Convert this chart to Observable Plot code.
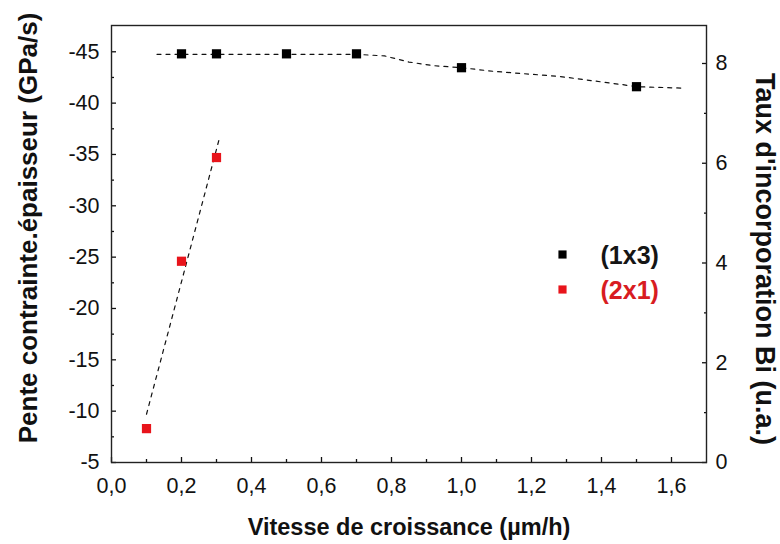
<!DOCTYPE html>
<html>
<head>
<meta charset="utf-8">
<script src="https://cdn.jsdelivr.net/npm/d3@7"></script>
<script src="https://cdn.jsdelivr.net/npm/@observablehq/plot@0.6"></script>
<style>
  body { margin: 0; background: #fff; }
  #chart svg { font-family: Arial, "Liberation Sans", sans-serif; }
</style>
</head>
<body>
<div id="chart"></div>
<script>
// ---- data ----
const seriesNames = ["(1x3)", "(2x1)"];
const seriesColors = ["#000000", "#e8141b"];

// (1x3) measured points
const x1x3 = [0.2, 0.3, 0.5, 0.7, 1.0, 1.5];
const y1x3 = [-44.8, -44.8, -44.8, -44.8, -43.45, -41.6];

// (2x1) measured points
const x2x1 = [0.1, 0.2, 0.3];
const y2x1 = [-8.3, -24.6, -34.7];

// dashed guide curves
const fit1x3X = [0.13, 0.7, 0.78, 0.85, 0.92, 1.0, 1.09, 1.28, 1.37, 1.46, 1.5, 1.64];
const fit1x3Y = [-44.75, -44.75, -44.6, -44.0, -43.65, -43.45, -43.1, -42.6, -42.2, -41.8, -41.6, -41.45];
const fit2x1X = [0.1, 0.31];
const fit2x1Y = [-9.7, -36.8];

// axes
const xTicks = [0, 0.2, 0.4, 0.6, 0.8, 1.0, 1.2, 1.4, 1.6];
const xMinor = [0.1, 0.3, 0.5, 0.7, 0.9, 1.1, 1.3, 1.5];
const yLeftTicks = [-5, -10, -15, -20, -25, -30, -35, -40, -45];
const yLeftMinor = [-7.5, -12.5, -17.5, -22.5, -27.5, -32.5, -37.5, -42.5];
const yRightTicks = [0, 2, 4, 6, 8];
const yRightMinor = [1, 3, 5, 7];
const yLeftDomain = [-5, -47.56];
const rightAt0 = -5, rightAt8 = -43.86; // left-axis values where the right axis reads 0 and 8

const xLabel = "Vitesse de croissance (µm/h)";
const yLeftLabel = "Pente contrainte.épaisseur (GPa/s)";
const yRightLabel = "Taux d'incorporation Bi (u.a.)";

// ---- build ----
const pts1 = x1x3.map((x, i) => ({x, y: y1x3[i]}));
const pts2 = x2x1.map((x, i) => ({x, y: y2x1[i]}));
const fit1 = fit1x3X.map((x, i) => ({x, y: fit1x3Y[i]}));
const fit2 = fit2x1X.map((x, i) => ({x, y: fit2x1Y[i]}));
const r2l = d3.scaleLinear().domain([0, 8]).range([rightAt0, rightAt8]);
const fmtComma = d => d.toFixed(1).replace(".", ",");

const W = 780, H = 544;
const mL = 111, mR = 74, mT = 25, mB = 82;
const tickFont = 21.5;

const chart = Plot.plot({
  width: W,
  height: H,
  marginLeft: mL,
  marginRight: mR,
  marginTop: mT,
  marginBottom: mB,
  style: {fontFamily: "Arial, 'Liberation Sans', sans-serif", color: "#111", background: "#fff"},
  x: {domain: [0, 1.7]},
  y: {domain: yLeftDomain},
  marks: [
    // bottom axis
    Plot.axisX(xTicks, {anchor: "bottom", tickSize: -5, tickPadding: 20, tickFormat: fmtComma, fontSize: tickFont, label: null, strokeWidth: 1.3}),
    Plot.axisX(xMinor, {anchor: "bottom", tickSize: -3, tickFormat: () => "", label: null, strokeWidth: 1.3}),
    // left axis
    Plot.axisY(yLeftTicks, {anchor: "left", tickSize: -5, tickPadding: 17, tickFormat: d => String(d), fontSize: tickFont, label: null, strokeWidth: 1.3}),
    Plot.axisY(yLeftMinor, {anchor: "left", tickSize: -3, tickFormat: () => "", label: null, strokeWidth: 1.3}),
    // right axis (secondary scale mapped onto the left one)
    Plot.axisY(yRightTicks.map(r2l), {anchor: "right", tickSize: -5, tickPadding: 14, tickFormat: d => String(Math.round(r2l.invert(d))), fontSize: tickFont, label: null, strokeWidth: 1.3}),
    Plot.axisY(yRightMinor.map(r2l), {anchor: "right", tickSize: -3, tickFormat: () => "", label: null, strokeWidth: 1.3}),
    Plot.frame({stroke: "#222", strokeWidth: 1.4}),

    // dashed guide curves
    Plot.line(fit1, {x: "x", y: "y", stroke: "#111", strokeWidth: 1.2, strokeDasharray: "4,5"}),
    Plot.line(fit2, {x: "x", y: "y", stroke: "#111", strokeWidth: 1.2, strokeDasharray: "4,5"}),

    // points
    Plot.dot(pts1, {x: "x", y: "y", symbol: "square", r: 5.2, fill: seriesColors[0], stroke: null}),
    Plot.dot(pts2, {x: "x", y: "y", symbol: "square", r: 5.2, fill: seriesColors[1], stroke: null}),

    // legend
    Plot.dot([seriesNames[0]], {frameAnchor: "top-left", dx: 451, dy: 229, symbol: "square", r: 4.6, fill: seriesColors[0]}),
    Plot.dot([seriesNames[1]], {frameAnchor: "top-left", dx: 451, dy: 264, symbol: "square", r: 4.6, fill: seriesColors[1]}),
    Plot.text([seriesNames[0]], {frameAnchor: "top-left", dx: 489, dy: 230, text: d => d, textAnchor: "start", lineAnchor: "middle", fontSize: 25, fontWeight: "bold", fill: "#151515"}),
    Plot.text([seriesNames[1]], {frameAnchor: "top-left", dx: 489, dy: 265, text: d => d, textAnchor: "start", lineAnchor: "middle", fontSize: 25, fontWeight: "bold", fill: "#d81c22"}),

    // axis titles
    Plot.text([yLeftLabel], {frameAnchor: "left", dx: -83, dy: -16, rotate: -90, textAnchor: "middle", lineAnchor: "middle", text: d => d, fontSize: 26, fontWeight: "bold", fill: "#111"}),
    Plot.text([xLabel], {frameAnchor: "bottom", dy: 65, textAnchor: "middle", lineAnchor: "middle", text: d => d, fontSize: 23.5, fontWeight: "bold", fill: "#111"}),
    Plot.text([yRightLabel], {frameAnchor: "right", dx: 58, dy: 15, rotate: 90, textAnchor: "middle", lineAnchor: "middle", text: d => d, fontSize: 27, fontWeight: "bold", fill: "#111"})
  ]
});
document.getElementById("chart").append(chart);
</script>
</body>
</html>
